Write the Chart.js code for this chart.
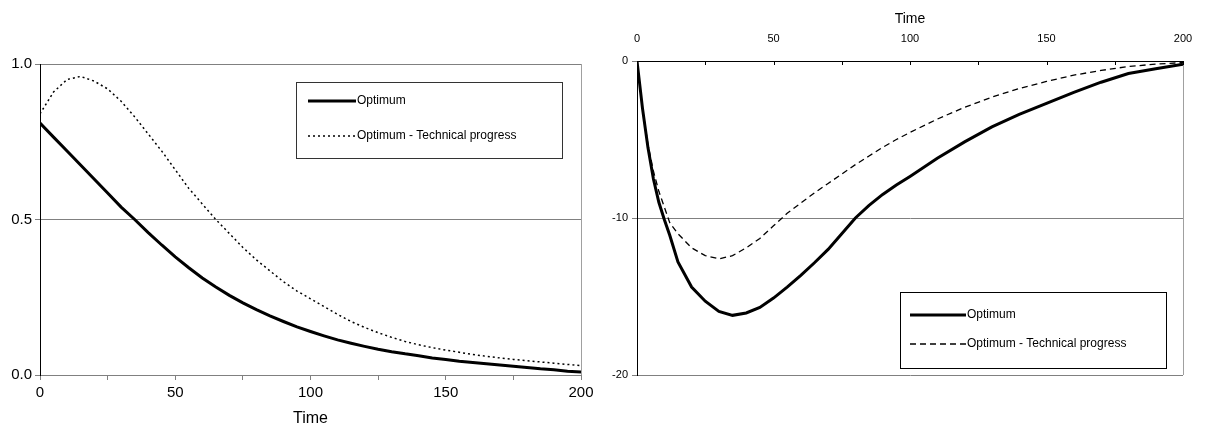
<!DOCTYPE html>
<html>
<head>
<meta charset="utf-8">
<script src="https://cdn.jsdelivr.net/npm/chart.js@4.4.0/dist/chart.umd.min.js"></script>
<style>
  body { margin: 0; background: #fff; width: 1205px; height: 434px; overflow: hidden; position: relative; }
  canvas { position: absolute; top: 0; }
  #leftChart { left: 0; }
  #rightChart { left: 600px; }
</style>
</head>
<body>
<canvas id="leftChart" width="600" height="434"></canvas>
<canvas id="rightChart" width="605" height="434"></canvas>
<script>
// Left panel: share over time
const leftTime = [0, 5, 10, 15, 20, 25, 30, 35, 40, 45, 50, 55, 60, 65, 70, 75, 80, 85, 90, 95, 100,
  105, 110, 115, 120, 125, 130, 135, 140, 145, 150, 155, 160, 165, 170, 175, 180, 185, 190, 195, 200];
const leftOptimum = [0.81, 0.765, 0.72, 0.675, 0.63, 0.585, 0.54, 0.50, 0.458, 0.418, 0.38, 0.345, 0.312, 0.283,
  0.256, 0.232, 0.21, 0.19, 0.172, 0.155, 0.14, 0.126, 0.113, 0.102, 0.092, 0.083, 0.075, 0.068, 0.062, 0.055,
  0.05, 0.044, 0.04, 0.036, 0.032, 0.028, 0.024, 0.02, 0.017, 0.012, 0.01];
const leftTechProgress = [0.84, 0.91, 0.95, 0.96, 0.945, 0.92, 0.88, 0.83, 0.775, 0.72, 0.66, 0.60, 0.55, 0.50,
  0.455, 0.41, 0.37, 0.335, 0.30, 0.27, 0.245, 0.22, 0.195, 0.172, 0.153, 0.136, 0.121, 0.108, 0.097, 0.088,
  0.08, 0.073, 0.066, 0.06, 0.055, 0.05, 0.046, 0.042, 0.038, 0.034, 0.03];

// Right panel: deviation over time
const rightTime = [0, 2, 4, 6, 8, 10, 12, 15, 20, 25, 30, 35, 40, 45, 50, 55, 60, 65, 70, 75, 80, 85, 90, 95,
  100, 110, 120, 130, 140, 150, 160, 170, 180, 190, 200];
const rightOptimum = [0, -3.0, -5.5, -7.5, -9.0, -10.1, -11.1, -12.8, -14.4, -15.3, -15.95, -16.2, -16.05,
  -15.7, -15.1, -14.4, -13.65, -12.85, -12.0, -11.0, -10.0, -9.2, -8.5, -7.9, -7.35, -6.2, -5.15, -4.2, -3.4,
  -2.7, -2.0, -1.35, -0.8, -0.5, -0.2];
const rightTechProgress = [0, -3.0, -5.3, -7.0, -8.3, -9.3, -10.3, -11.0, -11.9, -12.4, -12.6, -12.4, -11.9,
  -11.3, -10.5, -9.7, -9.05, -8.4, -7.8, -7.2, -6.6, -6.05, -5.5, -5.0, -4.55, -3.7, -2.95, -2.3, -1.75,
  -1.3, -0.9, -0.6, -0.35, -0.2, -0.1];

const seriesNames = ["Optimum", "Optimum - Technical progress"];
const timeTicks = [0, 50, 100, 150, 200];

function toPoints(xs, ys) {
  return xs.map(function (x, i) { return { x: x, y: ys[i] }; });
}

// grey right frame, inside ticks for the top axis, legend box
const framePlugin = {
  id: "framePlugin",
  afterDraw(chart, args, opts) {
    const ctx = chart.ctx;
    const a = chart.chartArea;
    ctx.save();
    ctx.strokeStyle = "#a0a0a0";
    ctx.lineWidth = 1;
    ctx.beginPath();
    ctx.moveTo(a.right + 0.5, a.top);
    ctx.lineTo(a.right + 0.5, a.bottom);
    ctx.stroke();

    if (opts.insideTicks) {
      const xs = chart.scales.x;
      ctx.strokeStyle = "#000";
      xs.ticks.forEach(function (t) {
        const px = Math.round(xs.getPixelForValue(t.value)) + 0.5;
        ctx.beginPath();
        ctx.moveTo(px, a.top);
        ctx.lineTo(px, a.top + 4);
        ctx.stroke();
      });
    }

    const lg = opts.legend;
    ctx.strokeStyle = lg.border;
    ctx.lineWidth = 1;
    ctx.strokeRect(lg.x + 0.5, lg.y + 0.5, lg.w, lg.h);
    ctx.font = lg.font;
    ctx.fillStyle = "#000";
    ctx.textBaseline = "middle";
    chart.data.datasets.forEach(function (ds, i) {
      const yy = lg.rows[i];
      ctx.strokeStyle = "#000";
      ctx.lineWidth = ds.borderWidth;
      ctx.setLineDash(ds.borderDash || []);
      ctx.beginPath();
      ctx.moveTo(lg.lineX0, yy);
      ctx.lineTo(lg.lineX1, yy);
      ctx.stroke();
      ctx.setLineDash([]);
      ctx.fillText(ds.label, lg.lineX1 + 1, yy);
    });
    ctx.restore();
  }
};

const leftChart = new Chart(document.getElementById("leftChart"), {
  type: "line",
  data: {
    datasets: [
      { label: seriesNames[0], data: toPoints(leftTime, leftOptimum), borderColor: "#000",
        borderWidth: 3, pointRadius: 0 },
      { label: seriesNames[1], data: toPoints(leftTime, leftTechProgress), borderColor: "#000",
        borderWidth: 1.5, borderDash: [2, 3], pointRadius: 0 }
    ]
  },
  options: {
    responsive: false,
    animation: false,
    layout: { padding: { left: 0, right: 19, top: 64, bottom: 6 } },
    scales: {
      x: {
        type: "linear", min: 0, max: 200,
        afterFit: function (s) { s.height = 53; },
        ticks: {
          stepSize: 25, autoSkip: false, maxRotation: 0, color: "#000", padding: 4,
          font: { family: "Liberation Sans, Arial", size: 15 },
          callback: function (v) { return timeTicks.includes(v) ? String(v) : ""; }
        },
        grid: { drawOnChartArea: false, tickLength: 5, color: "#808080" },
        border: { color: "#808080" },
        title: { display: true, text: "Time", color: "#000", padding: { top: 0, bottom: 0 },
          font: { family: "Liberation Sans, Arial", size: 16 } }
      },
      y: {
        min: 0, max: 1,
        afterFit: function (s) { s.width = 40; },
        ticks: { stepSize: 0.5, color: "#000", padding: 3,
          font: { family: "Liberation Sans, Arial", size: 15 },
          callback: function (v) { return v.toFixed(1); } },
        grid: { color: "#808080", tickLength: 5 },
        border: { color: "#000" }
      }
    },
    plugins: {
      legend: { display: false },
      tooltip: { enabled: false },
      framePlugin: {
        insideTicks: false,
        legend: { x: 296, y: 82, w: 266, h: 76, border: "#333", rows: [101, 136],
          lineX0: 308, lineX1: 356, font: "12px 'Liberation Sans', Arial" }
      }
    }
  },
  plugins: [framePlugin]
});

const rightChart = new Chart(document.getElementById("rightChart"), {
  type: "line",
  data: {
    datasets: [
      { label: seriesNames[0], data: toPoints(rightTime, rightOptimum), borderColor: "#000",
        borderWidth: 3, pointRadius: 0 },
      { label: seriesNames[1], data: toPoints(rightTime, rightTechProgress), borderColor: "#000",
        borderWidth: 1.3, borderDash: [6, 4], pointRadius: 0 }
    ]
  },
  options: {
    responsive: false,
    animation: false,
    layout: { padding: { left: 0, right: 22, top: 0, bottom: 59 } },
    scales: {
      x: {
        type: "linear", position: "top", min: 0, max: 200,
        afterFit: function (s) { s.height = 61; },
        ticks: {
          stepSize: 25, autoSkip: false, maxRotation: 0, color: "#000", padding: 4,
          font: { family: "Liberation Sans, Arial", size: 11 },
          callback: function (v) { return timeTicks.includes(v) ? String(v) : ""; }
        },
        // outside tick marks hidden; the visible ones are drawn inward by framePlugin
        grid: { drawOnChartArea: false, drawTicks: true, tickLength: 11, color: "rgba(0,0,0,0)" },
        border: { color: "#000" },
        title: { display: true, text: "Time", color: "#000", padding: { top: 11, bottom: 0 },
          font: { family: "Liberation Sans, Arial", size: 14 } }
      },
      y: {
        min: -20, max: 0,
        afterFit: function (s) { s.width = 37; },
        ticks: { stepSize: 10, color: "#000", padding: 4,
          font: { family: "Liberation Sans, Arial", size: 11 } },
        grid: { color: "#808080", tickLength: 5 },
        border: { color: "#000" }
      }
    },
    plugins: {
      legend: { display: false },
      tooltip: { enabled: false },
      framePlugin: {
        insideTicks: true,
        legend: { x: 300, y: 292, w: 266, h: 76, border: "#000", rows: [315, 344],
          lineX0: 310, lineX1: 366, font: "12px 'Liberation Sans', Arial" }
      }
    }
  },
  plugins: [framePlugin]
});
</script>
</body>
</html>
